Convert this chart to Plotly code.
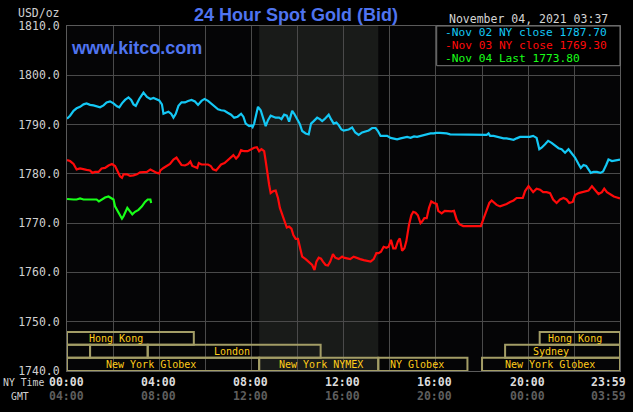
import plotly.graph_objects as go

# ---------------- data (minutes since 00:00 NY time, price USD/oz) ----------------
nov02_t = [0, 8, 17, 25, 34, 43, 51, 60, 69, 77, 86, 95, 103, 112, 121, 130, 136, 143, 151, 160,
           167, 173, 179, 188, 199, 208, 217, 225, 234, 240, 247, 251, 257, 264, 271, 277, 283, 290,
           298, 307, 315, 324, 333, 341, 350, 358, 367, 375, 384, 393, 401, 410, 418, 427, 435, 444,
           453, 459, 465, 474, 480, 483, 487, 491, 497, 504, 511, 517, 523, 530, 537, 543, 552, 558,
           565, 572, 578, 586, 592, 599, 606, 612, 621, 629, 635, 642, 651, 658, 664, 670, 677, 681,
           687, 694, 701, 707, 714, 720, 733, 742, 750, 759, 768, 777, 785, 794, 803, 809, 816, 824,
           833, 842, 850, 859, 868, 877, 885, 894, 903, 911, 920, 929, 937, 946, 955, 960, 970, 979,
           988, 997, 1005, 1014, 1023, 1031, 1040, 1049, 1057, 1066, 1075, 1083, 1092, 1097, 1101,
           1110, 1118, 1127, 1136, 1144, 1153, 1162, 1170, 1179, 1188, 1197, 1204, 1213, 1222, 1229,
           1235, 1244, 1252, 1261, 1270, 1279, 1287, 1296, 1305, 1313, 1322, 1331, 1337, 1344, 1351,
           1357, 1363, 1370, 1379, 1388, 1395, 1403, 1409, 1418, 1427, 1439]
nov02_v = [1791.2, 1791.8, 1792.8, 1793.3, 1793.6, 1794.1, 1794.3, 1794.0, 1793.9, 1793.7, 1793.5,
           1793.9, 1794.5, 1794.7, 1794.3, 1793.7, 1793.5, 1794.3, 1795.0, 1795.5, 1795.0, 1794.1,
           1793.8, 1795.2, 1796.5, 1795.6, 1795.2, 1795.4, 1795.0, 1794.9, 1794.1, 1792.2, 1792.4,
           1792.6, 1792.2, 1791.4, 1792.2, 1793.8, 1794.5, 1794.5, 1794.8, 1795.0, 1794.7, 1794.0,
           1794.8, 1795.2, 1794.8, 1794.3, 1793.6, 1793.1, 1792.9, 1792.8, 1792.4, 1792.0, 1791.4,
           1791.6, 1792.2, 1791.6, 1790.2, 1789.7, 1789.8, 1789.5, 1790.2, 1791.4, 1793.6, 1792.9,
           1791.1, 1789.7, 1790.9, 1791.8, 1791.6, 1791.4, 1791.4, 1791.1, 1792.0, 1791.8, 1790.6,
           1792.8, 1792.1, 1791.1, 1790.1, 1788.7, 1788.2, 1788.0, 1790.2, 1790.7, 1791.4, 1791.1,
           1790.7, 1791.1, 1791.6, 1792.0, 1791.1, 1790.2, 1790.4, 1789.9, 1789.0, 1788.8, 1789.0,
           1789.4, 1788.4, 1787.9, 1788.4, 1788.6, 1788.8, 1789.3, 1789.3, 1788.7, 1787.7, 1787.7,
           1787.7, 1787.3, 1787.2, 1787.0, 1787.2, 1787.3, 1787.5, 1787.3, 1787.6, 1787.5, 1787.7,
           1787.9, 1788.0, 1788.2, 1788.2, 1788.3, 1788.3, 1788.3, 1788.2, 1788.0, 1788.0, 1787.9,
           1787.9, 1787.9, 1787.9, 1787.9, 1787.9, 1787.9, 1787.9, 1788.0, 1787.9, 1788.2, 1787.7,
           1787.7, 1787.5, 1787.3, 1787.2, 1787.2, 1787.0, 1786.9, 1787.2, 1787.5, 1787.5, 1787.5,
           1787.5, 1787.7, 1787.3, 1785.0, 1785.3, 1786.0, 1786.7, 1786.3, 1785.7, 1785.2, 1785.0,
           1784.3, 1785.0, 1784.3, 1783.3, 1782.0, 1781.2, 1781.8, 1781.6, 1780.9, 1780.2, 1780.4,
           1780.4, 1780.2, 1780.5, 1781.8, 1782.9, 1782.6, 1782.7, 1782.9]

nov03_t = [0, 8, 17, 25, 34, 43, 51, 60, 66, 73, 82, 90, 99, 108, 117, 125, 132, 138, 143, 147,
           156, 164, 173, 182, 190, 199, 208, 217, 225, 234, 240, 243, 251, 260, 268, 277, 285, 291,
           298, 307, 315, 321, 326, 333, 339, 343, 350, 358, 367, 374, 380, 388, 394, 401, 410, 418,
           427, 433, 440, 446, 453, 461, 470, 478, 487, 494, 500, 506, 513, 517, 521, 526, 530, 537,
           543, 549, 554, 560, 566, 572, 578, 584, 589, 595, 601, 606, 612, 621, 629, 638, 644, 649,
           655, 661, 666, 673, 679, 685, 692, 698, 707, 716, 720, 729, 737, 746, 755, 763, 772, 781,
           790, 798, 805, 811, 817, 824, 831, 837, 843, 849, 855, 861, 866, 872, 878, 883, 890, 896,
           901, 907, 913, 920, 924, 930, 936, 942, 948, 955, 962, 966, 975, 983, 992, 1001, 1007,
           1014, 1021, 1031, 1040, 1049, 1057, 1066, 1077, 1083, 1092, 1099, 1105, 1111, 1118, 1127,
           1136, 1144, 1153, 1162, 1170, 1179, 1186, 1192, 1201, 1213, 1222, 1231, 1239, 1248, 1257,
           1265, 1274, 1283, 1292, 1300, 1307, 1316, 1322, 1331, 1340, 1348, 1357, 1366, 1375, 1383,
           1392, 1398, 1405, 1414, 1423, 1431, 1439]
nov03_v = [1782.8, 1782.6, 1782.0, 1780.9, 1781.1, 1780.9, 1780.8, 1780.7, 1780.2, 1780.4, 1780.4,
           1781.1, 1781.2, 1781.7, 1782.0, 1781.6, 1780.4, 1779.5, 1779.2, 1779.9, 1779.9, 1779.6,
           1779.7, 1779.9, 1780.3, 1780.3, 1780.4, 1780.9, 1780.5, 1780.2, 1780.1, 1780.7, 1781.2,
           1781.6, 1782.0, 1782.9, 1783.3, 1782.6, 1781.8, 1781.7, 1782.0, 1782.5, 1781.6, 1781.4,
           1781.2, 1782.2, 1781.9, 1781.9, 1781.9, 1781.6, 1780.9, 1780.7, 1781.2, 1781.9, 1782.2,
           1782.7, 1783.3, 1783.8, 1783.1, 1783.6, 1784.8, 1784.6, 1784.6, 1785.0, 1785.3, 1785.4,
           1784.6, 1785.0, 1784.6, 1782.6, 1779.9, 1777.8, 1776.1, 1776.5, 1776.6, 1775.1, 1773.1,
           1771.7, 1770.3, 1769.1, 1769.3, 1768.9, 1767.6, 1766.8, 1766.8, 1764.9, 1763.2, 1762.7,
           1762.2, 1761.5, 1760.5, 1762.2, 1763.0, 1762.8, 1762.2, 1761.5, 1761.4, 1762.2, 1763.7,
           1763.0, 1762.7, 1763.2, 1763.0, 1762.9, 1762.7, 1763.2, 1762.9, 1762.7, 1762.5, 1762.3,
           1762.2, 1762.7, 1763.9, 1763.9, 1764.2, 1765.2, 1765.0, 1765.2, 1766.6, 1764.9, 1764.9,
           1766.3, 1766.9, 1764.4, 1764.9, 1766.3, 1769.7, 1771.6, 1772.3, 1772.1, 1771.6, 1770.0,
           1770.3, 1771.0, 1771.0, 1773.1, 1774.4, 1774.1, 1773.9, 1772.5, 1772.0, 1772.5, 1772.4,
           1772.4, 1772.5, 1770.7, 1769.8, 1769.4, 1769.4, 1769.4, 1769.4, 1769.4, 1769.4, 1770.7,
           1772.4, 1774.1, 1774.6, 1774.1, 1773.7, 1773.4, 1773.6, 1773.9, 1774.3, 1774.6, 1775.1,
           1775.1, 1775.1, 1776.5, 1777.5, 1776.3, 1777.0, 1776.8, 1776.3, 1776.3, 1776.1, 1774.8,
           1774.1, 1774.8, 1775.1, 1774.8, 1774.1, 1774.3, 1775.7, 1776.1, 1776.3, 1776.5, 1776.6,
           1777.5, 1776.6, 1775.9, 1776.3, 1777.0, 1776.3, 1775.8, 1775.4, 1775.2, 1775.0]

nov04_t = [0, 8, 17, 25, 34, 43, 51, 60, 69, 77, 83, 90, 99, 108, 117, 121, 125, 132, 138, 143,
           147, 151, 157, 164, 170, 177, 186, 195, 203, 210, 217, 219]
nov04_v = [1774.9, 1774.8, 1774.8, 1774.8, 1775.0, 1774.8, 1774.8, 1774.7, 1774.7, 1774.8, 1774.4,
           1774.8, 1775.2, 1775.4, 1775.0, 1774.8, 1773.4, 1772.4, 1771.6, 1770.9, 1771.4, 1772.0,
           1773.1, 1772.4, 1771.8, 1772.3, 1772.7, 1773.4, 1774.3, 1774.8, 1774.8, 1774.1]

legend_texts = ["-Nov 02 NY close 1787.70", "-Nov 03 NY close 1769.30", "-Nov 04 Last 1773.80"]

# market sessions: name, start minute, end minute, row (0 = top row)
session_names = ["Hong Kong", "", "", "London", "New York Globex", "New York NYMEX",
                 "NY Globex", "New York Globex", "Sydney", "Hong Kong"]
session_start = [0, 0, 60, 210, 0, 500, 810, 1080, 1140, 1230]
session_end = [330, 60, 210, 660, 500, 810, 1042, 1439, 1439, 1439]
session_row = [0, 1, 1, 1, 2, 2, 2, 2, 1, 0]
session_label_x = [128, 0, 0, 430, 219, 662, 911, 1258, 1260, 1323]

nymex_pit = [500, 810]

tick_minutes = [0, 240, 480, 720, 960, 1200, 1439]
ny_labels = ["00:00", "04:00", "08:00", "12:00", "16:00", "20:00", "23:59"]
gmt_labels = ["04:00", "08:00", "12:00", "16:00", "20:00", "00:00", "03:59"]

# ---------------- figure ----------------
W, H = 633, 412
L, R, T, B = 67, 13, 26, 41
PW, PH = W - L - R, H - T - B


def px(x):
    return (x - L) / PW


def py(y):
    return (H - B - y) / PH


MONO = "DejaVu Sans Mono"
BLUE = "#14c8f5"
RED = "#ff0a0a"
GREEN = "#18ff18"
GRID = "#4a4a4a"
BOXC = "#a39d66"
SESS_TXT = "#ffcc1a"

fig = go.Figure()
fig.add_trace(go.Scatter(x=nov02_t, y=nov02_v, mode="lines", line=dict(color=BLUE, width=2.2)))
fig.add_trace(go.Scatter(x=nov03_t, y=nov03_v, mode="lines", line=dict(color=RED, width=2.2)))
fig.add_trace(go.Scatter(x=nov04_t, y=nov04_v, mode="lines", line=dict(color=GREEN, width=2.2)))

shapes = []
# NYMEX pit shading
shapes.append(dict(type="rect", xref="x", yref="paper", x0=nymex_pit[0], x1=nymex_pit[1], y0=0, y1=1,
                   fillcolor="#191b19", line=dict(width=0), layer="below"))

row_edges = [(1745.35, 1747.9), (1742.7, 1745.35), (1740.0, 1742.7)]
row_mid = [1746.62, 1744.02, 1741.35]
annotations = []
for name, s, e, r, lx in zip(session_names, session_start, session_end, session_row, session_label_x):
    y0, y1 = row_edges[r]
    shapes.append(dict(type="rect", xref="x", yref="y", x0=s, x1=e, y0=y0, y1=y1,
                       line=dict(color=BOXC, width=2), fillcolor="rgba(0,0,0,0)", layer="above"))
    if name:
        annotations.append(dict(x=lx, y=row_mid[r], xref="x", yref="y", text=name, showarrow=False,
                                borderpad=0,
                                font=dict(family=MONO, size=10, color=SESS_TXT)))

# legend box
shapes.append(dict(type="rect", xref="paper", yref="paper", x0=px(436.7), x1=1, y0=py(65.7), y1=1,
                   fillcolor="#000000", line=dict(color="#7a7a7a", width=1), layer="above"))

for i, (txt, col) in enumerate(zip(legend_texts, [BLUE, RED, GREEN])):
    annotations.append(dict(x=px(444), y=py(33.0 + 12.8 * i), xref="paper", yref="paper", text=txt,
                            showarrow=False, xanchor="left", yanchor="middle", borderpad=0,
                            font=dict(family=MONO, size=11.2, color=col)))

# titles
annotations.append(dict(x=px(295.5), y=py(15), xref="paper", yref="paper", text="<b>24 Hour Spot Gold (Bid)</b>",
                        showarrow=False, xanchor="center", yanchor="middle",
                        font=dict(family="Liberation Sans", size=18, color="#4f74f0")))
annotations.append(dict(x=px(69), y=py(48), xref="paper", yref="paper", text="<b>www.kitco.com</b>",
                        showarrow=False, xanchor="left", yanchor="middle",
                        font=dict(family="Liberation Sans", size=18, color="#4f74f0")))
annotations.append(dict(x=px(528.7), y=py(19), xref="paper", yref="paper", text="November 04, 2021 03:37",
                        showarrow=False, xanchor="center", yanchor="middle", borderpad=0,
                        font=dict(family=MONO, size=11.5, color="#d4d4d4")))
annotations.append(dict(x=px(62), y=py(12.7), xref="paper", yref="paper", text="USD/oz",
                        showarrow=False, xanchor="right", yanchor="middle",
                        font=dict(family=MONO, size=11.5, color="#d0d0d0")))
annotations.append(dict(x=px(2), y=py(382), xref="paper", yref="paper", text="NY Time",
                        showarrow=False, xanchor="left", yanchor="middle", borderpad=0,
                        font=dict(family=MONO, size=9.8, color="#d0d0d0")))
annotations.append(dict(x=px(20), y=py(396), xref="paper", yref="paper", text="GMT",
                        showarrow=False, xanchor="center", yanchor="middle", borderpad=0,
                        font=dict(family=MONO, size=9.8, color="#d0d0d0")))

for i, (m, ny, gm) in enumerate(zip(tick_minutes, ny_labels, gmt_labels)):
    shift = -12 if i == len(tick_minutes) - 1 else -1
    annotations.append(dict(x=m, y=py(382), xref="x", yref="paper", text="<b>" + ny + "</b>",
                            showarrow=False, xanchor="center", yanchor="middle", xshift=shift,
                            borderpad=0,
                            font=dict(family=MONO, size=11.5, color="#dcdcdc")))
    annotations.append(dict(x=m, y=py(396), xref="x", yref="paper", text="<b>" + gm + "</b>",
                            showarrow=False, xanchor="center", yanchor="middle", xshift=shift,
                            borderpad=0,
                            font=dict(family=MONO, size=11.5, color="#5e5e5e")))

fig.update_layout(
    width=W, height=H,
    margin=dict(l=L, r=R, t=T, b=B, pad=0),
    paper_bgcolor="#000000",
    plot_bgcolor="#050506",
    showlegend=False,
    shapes=shapes,
    annotations=annotations,
    xaxis=dict(range=[0, 1439], dtick=120, tick0=0, showgrid=True, gridcolor=GRID, gridwidth=1,
               showticklabels=False, zeroline=False, showline=True, linecolor="#5a5a5a", mirror=True,
               automargin=False, fixedrange=True),
    yaxis=dict(range=[1740, 1810], dtick=10, tick0=1740, tickformat=".1f", showgrid=True,
               gridcolor=GRID, gridwidth=1, zeroline=False, showline=True, linecolor="#5a5a5a",
               mirror=True, ticks="", ticklabelstandoff=4, automargin=False, fixedrange=True,
               tickfont=dict(family=MONO, size=11.5, color="#d0d0d0")),
)

fig.write_html("out.html")
